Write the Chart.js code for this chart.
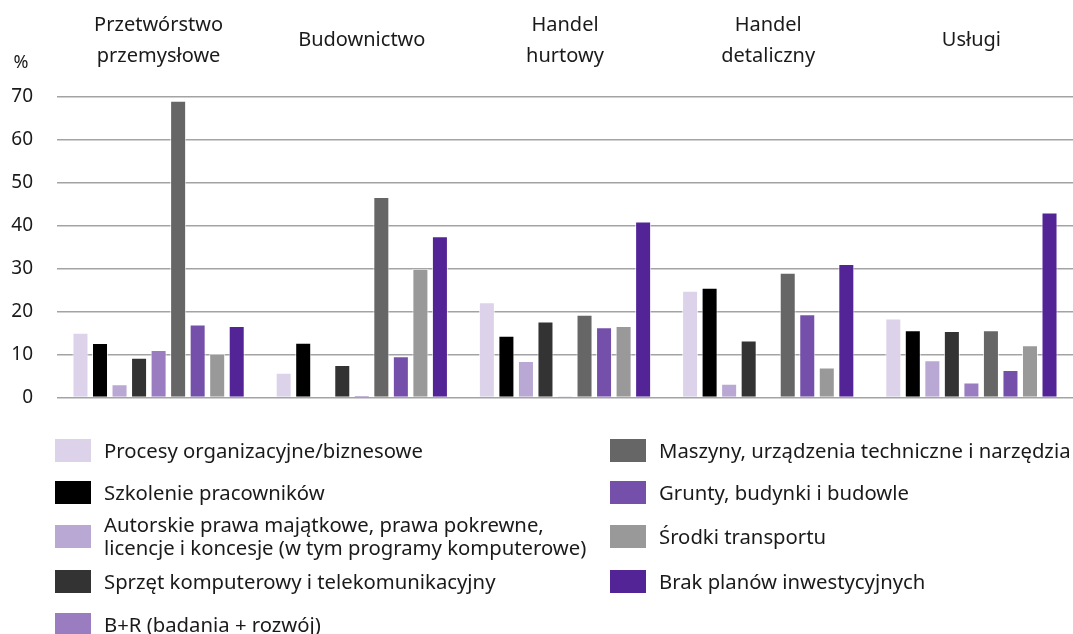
<!DOCTYPE html>
<html>
<head>
<meta charset="utf-8">
<script src="https://cdn.jsdelivr.net/npm/chart.js@4"></script>
<style>
  html, body { margin: 0; padding: 0; background: #fff; overflow: hidden; }
  body { width: 1073px; height: 634px; font-family: "Noto Sans", sans-serif; color: #1a1a1a; }
  #chart { position: absolute; left: 0; top: 0; }
  #legend {
    position: absolute; left: 55px; top: 429px; width: 1018px;
    display: grid; grid-template-columns: 555px 463px;
    grid-template-rows: 42px 42px 46px 45px 40px; grid-auto-flow: column;
    font-size: 20.3px; line-height: 23px;
  }
  .item { display: flex; align-items: center; white-space: nowrap; }
  .sw { width: 36px; height: 23px; margin-right: 13px; flex: none; }
</style>
</head>
<body>
<canvas id="chart" width="1073" height="433"></canvas>
<div id="legend"></div>
<script>
// sectors (top labels)
const categories = [
  ['Przetwórstwo', 'przemysłowe'],
  'Budownictwo',
  ['Handel', 'hurtowy'],
  ['Handel', 'detaliczny'],
  'Usługi'
];

// investment areas, one array per series, values in %
const seriesNames = [
  'Procesy organizacyjne/biznesowe',
  'Szkolenie pracowników',
  'Autorskie prawa majątkowe, prawa pokrewne,\nlicencje i koncesje (w tym programy komputerowe)',
  'Sprzęt komputerowy i telekomunikacyjny',
  'B+R (badania + rozwój)',
  'Maszyny, urządzenia techniczne i narzędzia',
  'Grunty, budynki i budowle',
  'Środki transportu',
  'Brak planów inwestycyjnych'
];
const procesy    = [15.1, 5.8, 22.2, 24.9, 18.4];
const szkolenie  = [12.7, 12.8, 14.4, 25.6, 15.7];
const prawa      = [3.1, 0, 8.5, 3.2, 8.7];
const sprzet     = [9.3, 7.6, 17.7, 13.3, 15.5];
const bplusr     = [11.1, 0.6, 0.3, 0, 3.5];
const maszyny    = [69.1, 46.7, 19.3, 29.1, 15.7];
const grunty     = [17.0, 9.6, 16.4, 19.4, 6.4];
const transport  = [10.2, 30.0, 16.7, 7.0, 12.2];
const brakPlanow = [16.7, 37.6, 41.0, 31.1, 43.1];

const yTicks = [0, 10, 20, 30, 40, 50, 60, 70];

const colors = ['#dcd3ea', '#000000', '#b9a7d4', '#333333', '#9a7dc0', '#666666', '#7550aa', '#999999', '#532496'];
const seriesData = [procesy, szkolenie, prawa, sprzet, bplusr, maszyny, grunty, transport, brakPlanow];

const FONT = '"Noto Sans", sans-serif';

// "%" unit above the y axis
const unitLabel = {
  id: 'unitLabel',
  afterDraw(chart) {
    const ctx = chart.ctx;
    const y = chart.scales.y;
    ctx.save();
    ctx.font = '18px ' + FONT;
    ctx.fillStyle = '#1a1a1a';
    ctx.textAlign = 'center';
    ctx.textBaseline = 'middle';
    ctx.fillText('%', 21, y.top - 34);
    ctx.restore();
  }
};

new Chart(document.getElementById('chart'), {
  type: 'bar',
  data: {
    labels: categories,
    datasets: seriesData.map((d, i) => ({
      label: seriesNames[i],
      data: d,
      backgroundColor: colors[i],
      borderColor: 'rgba(255,255,255,0.7)',
      borderWidth: 1,
      categoryPercentage: 0.865,
      barPercentage: 0.82
    }))
  },
  options: {
    responsive: false,
    animation: false,
    layout: { padding: { top: 0, left: 0, right: 0, bottom: 12 } },
    plugins: { legend: { display: false }, tooltip: { enabled: false } },
    scales: {
      x: {
        position: 'top',
        afterFit(scale) { scale.height = 97; },
        grid: { display: false, drawTicks: false },
        border: { display: false },
        ticks: {
          color: '#1a1a1a',
          padding: 41,
          crossAlign: 'center',
          maxRotation: 0,
          font: { family: FONT, size: 20, lineHeight: '31px' }
        }
      },
      y: {
        min: 0,
        max: 70,
        afterBuildTicks(scale) { scale.ticks = yTicks.map(v => ({ value: v })); },
        afterFit(scale) { scale.width = 57; },
        grid: { color: '#a3a3a3', lineWidth: 1.5, drawTicks: false },
        border: { display: false },
        ticks: {
          color: '#1a1a1a',
          padding: 24,
          font: { family: FONT, size: 19 }
        }
      }
    }
  },
  plugins: [unitLabel]
});

// legend built from the same names/colours
const legend = document.getElementById('legend');
seriesNames.forEach((name, i) => {
  const item = document.createElement('div');
  item.className = 'item';
  const sw = document.createElement('span');
  sw.className = 'sw';
  sw.style.background = colors[i];
  const txt = document.createElement('span');
  txt.innerHTML = name.replace('\n', '<br>');
  item.appendChild(sw);
  item.appendChild(txt);
  legend.appendChild(item);
});
</script>
</body>
</html>
